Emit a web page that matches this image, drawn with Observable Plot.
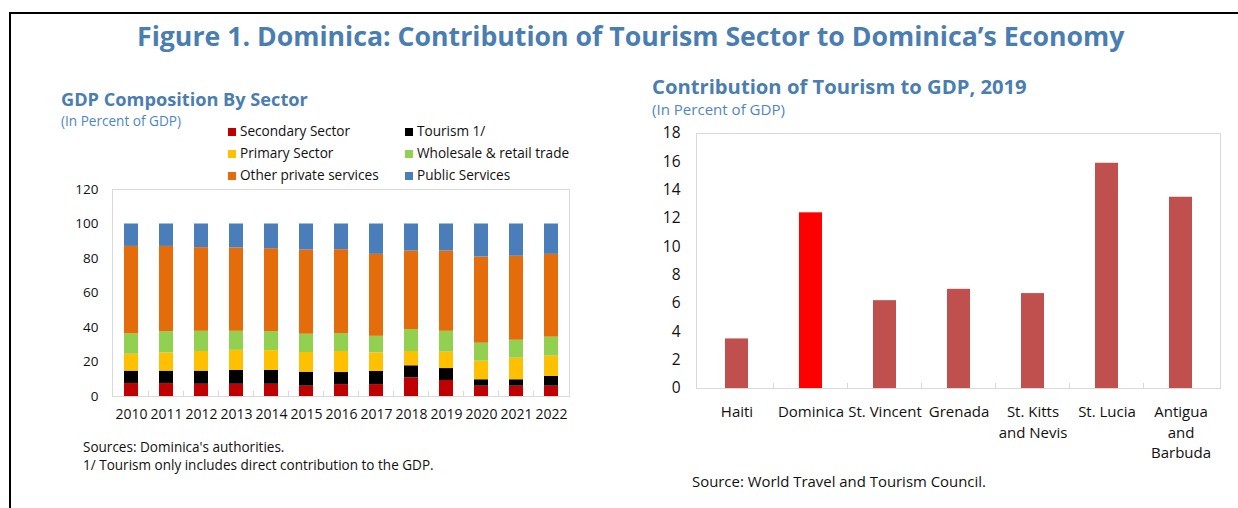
<!DOCTYPE html>
<html>
<head>
<meta charset="utf-8">
<script src="https://cdn.jsdelivr.net/npm/d3@7"></script>
<script src="https://cdn.jsdelivr.net/npm/@observablehq/plot@0.6"></script>
<style>
  html, body { margin: 0; padding: 0; background: #fff; }
  #stage { position: relative; width: 1238px; height: 508px; overflow: hidden; background: #fff; }
  #stage svg { position: absolute; overflow: visible; }
  .frameline { position: absolute; left: 9px; top: 12px; width: 1300px; height: 600px; border-left: 2px solid #000; border-top: 2px solid #000; }
</style>
</head>
<body>
<div id="stage"><div class="frameline"></div></div>
<script>
// ---------- Data: left chart (GDP composition, % of GDP) ----------
const years = ["2010","2011","2012","2013","2014","2015","2016","2017","2018","2019","2020","2021","2022"];
const seriesNames = ["Secondary Sector","Tourism 1/","Primary Sector","Wholesale & retail trade","Other private services","Public Services"];
const secondarySector = [7.5, 7.5, 7.1, 7.1, 7.1, 6.0, 6.9, 6.9, 10.8, 9.3, 6.0, 6.0, 6.0];
const tourism         = [7.2, 7.2, 7.6, 8.0, 8.1, 8.1, 7.0, 7.6, 7.0, 6.9, 3.7, 3.7, 5.6];
const primarySector   = [9.8, 10.6, 11.4, 11.7, 11.4, 11.4, 12.2, 10.8, 8.3, 9.5, 10.8, 12.5, 11.8];
const wholesaleRetail = [11.8, 12.3, 11.7, 11.0, 11.0, 10.6, 10.4, 9.6, 12.7, 12.1, 10.4, 10.4, 11.0];
const otherPrivate    = [50.7, 49.4, 48.5, 48.3, 48.1, 48.8, 48.6, 47.5, 45.5, 46.5, 50.0, 48.7, 48.0];
const publicServices  = [13.0, 13.0, 13.7, 13.9, 14.3, 15.1, 14.9, 17.6, 15.7, 15.7, 19.1, 18.7, 17.6];
const leftYTicks = [0, 20, 40, 60, 80, 100, 120];

// ---------- Data: right chart (tourism contribution, 2019) ----------
const countries = ["Haiti","Dominica","St. Vincent","Grenada","St. Kitts and Nevis","St. Lucia","Antigua and Barbuda"];
const countryTickLabels = ["Haiti","Dominica","St. Vincent","Grenada","St. Kitts\nand Nevis","St. Lucia","Antigua\nand\nBarbuda"];
const tourismShare2019 = [3.5, 12.4, 6.2, 7.0, 6.7, 15.9, 13.5];
const rightYTicks = [0, 2, 4, 6, 8, 10, 12, 14, 16, 18];

// ---------- Styles ----------
const seriesColors = ["#C00000", "#000000", "#FFC000", "#92D050", "#E46C0A", "#4A7EBB"];
const titleColor = "#4A7EB1";
const subColor = "#4F86C0";
const textColor = "#111";
const FONT = "'Open Sans', 'Noto Sans', sans-serif";

const stage = document.getElementById("stage");

function label(text, o) {
  const d = document.createElement("div");
  d.textContent = text;
  Object.assign(d.style, {
    position: "absolute", left: o.x + "px", whiteSpace: "pre",
    fontFamily: FONT, fontWeight: o.weight || 400, color: o.color || textColor,
    fontSize: o.size + "px", lineHeight: "1"
  });
  stage.appendChild(d);
  let size = o.size;
  if (o.width) {
    const w = d.getBoundingClientRect().width;
    size = o.size * o.width / w;
    d.style.fontSize = size + "px";
  }
  d.style.top = (o.cy - 0.53 * size) + "px";
  return size;
}

// Inner tick marks at band boundaries, pointing up from the baseline
function bandTicks(cats, color) {
  return (index, scales, values, dimensions) => {
    const x = scales.x;
    const bw = x.bandwidth ? x.bandwidth() : 0;
    const y0 = dimensions.height - dimensions.marginBottom;
    const g = d3.create("svg:g").attr("stroke", color);
    for (let i = 1; i < cats.length; i++) {
      const xx = (x(cats[i - 1]) + bw + x(cats[i])) / 2;
      g.append("line").attr("x1", xx).attr("x2", xx).attr("y1", y0).attr("y2", y0 - 5);
    }
    return g.node();
  };
}

// ---------- Titles ----------
label("Figure 1. Dominica: Contribution of Tourism Sector to Dominica\u2019s Economy",
  {x: 137, cy: 37, size: 26, weight: 700, color: titleColor, width: 988});
label("GDP Composition By Sector", {x: 61, cy: 100, size: 19, weight: 700, color: titleColor, width: 247});
label("(In Percent of GDP)", {x: 61, cy: 121.5, size: 14, color: subColor, width: 120});
label("Contribution of Tourism to GDP, 2019", {x: 652, cy: 86.5, size: 19, weight: 700, color: titleColor, width: 375});
label("(In Percent of GDP)", {x: 652, cy: 110, size: 15, color: subColor, width: 133});

// ---------- Legend ----------
const legendCols = [228, 405];
const legendRows = [131.5, 153.5, 175.5];
seriesNames.forEach((name, i) => {
  const col = i % 2, row = Math.floor(i / 2);
  const sq = document.createElement("div");
  Object.assign(sq.style, {position: "absolute", left: legendCols[col] + "px", top: (legendRows[row] - 4) + "px",
    width: "8px", height: "8px", background: seriesColors[i]});
  stage.appendChild(sq);
  label(name, {x: legendCols[col] + 12, cy: legendRows[row], size: 13.6});
});

// ---------- Left chart ----------
const seriesValues = [secondarySector, tourism, primarySector, wholesaleRetail, otherPrivate, publicServices];
const stackData = [];
seriesNames.forEach((s, si) => years.forEach((y, yi) => stackData.push({series: s, year: y, value: seriesValues[si][yi]})));

const left = Plot.plot({
  width: 502, height: 243,
  marginLeft: 40, marginRight: 5, marginTop: 8, marginBottom: 28,
  style: {fontFamily: FONT, fontSize: "13.5px", color: textColor, background: "transparent"},
  x: {domain: years, paddingInner: 0.6, paddingOuter: 0.3, label: null},
  y: {domain: [0, 120], label: null},
  color: {domain: seriesNames, range: seriesColors},
  marks: [
    Plot.frame({stroke: "#D9D9D9"}),
    Plot.barY(stackData, {x: "year", y: "value", fill: "series"}),
    bandTicks(years, "#D9D9D9"),
    Plot.axisY({ticks: leftYTicks, tickSize: 0, tickPadding: 14, label: null, fontSize: 13.5}),
    Plot.axisX({tickSize: 0, tickPadding: 13, label: null, fontSize: 14})
  ]
});
left.style.left = "72px";
left.style.top = "181px";
stage.appendChild(left);

// ---------- Right chart ----------
const countryData = countries.map((c, i) => ({country: c, value: tourismShare2019[i]}));
const right = Plot.plot({
  width: 584, height: 343,
  marginLeft: 50, marginRight: 10, marginTop: 8, marginBottom: 80,
  style: {fontFamily: FONT, fontSize: "15px", color: textColor, background: "transparent"},
  x: {domain: countries, paddingInner: 0.69, paddingOuter: 0.345, label: null},
  y: {domain: [0, 18], label: null},
  marks: [
    Plot.frame({stroke: "#D9D9D9"}),
    Plot.barY(countryData, {x: "country", y: "value", fill: d => d.country === "Dominica" ? "#FF0000" : "#C0504D"}),
    bandTicks(countries, "#D9D9D9"),
    Plot.axisY({ticks: rightYTicks, tickSize: 0, tickPadding: 16, label: null, fontSize: 15.5}),
    Plot.axisX({tickSize: 0, tickPadding: 14, label: null, fontSize: 15, lineHeight: 1.37,
      tickFormat: d => countryTickLabels[countries.indexOf(d)]})
  ]
});
right.style.left = "646px";
right.style.top = "125px";
stage.appendChild(right);

// ---------- Footnotes ----------
const fn = label("1/ Tourism only includes direct contribution to the GDP.", {x: 83, cy: 466.5, size: 13, width: 351});
label("Sources: Dominica's authorities.", {x: 83, cy: 448, size: fn});
label("Source: World Travel and Tourism Council.", {x: 692, cy: 481.7, size: 14, width: 294});
</script>
</body>
</html>
